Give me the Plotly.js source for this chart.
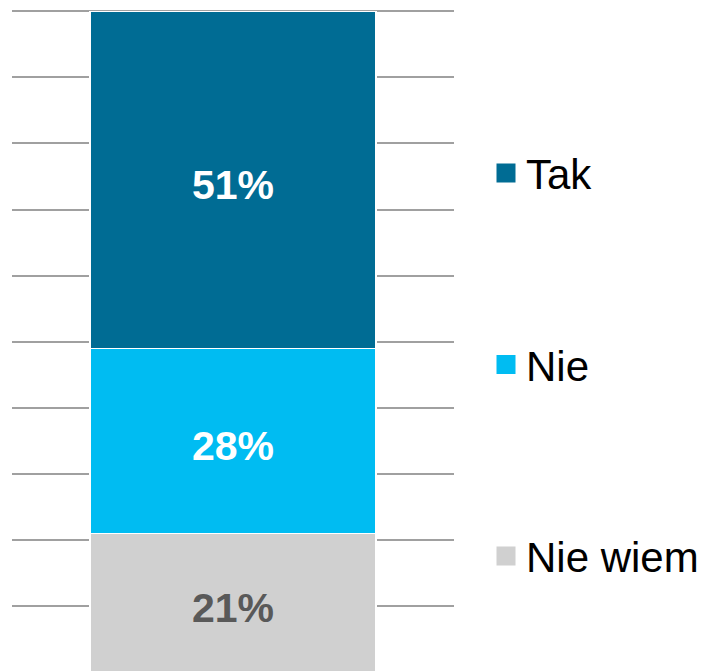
<!DOCTYPE html>
<html>
<head>
<meta charset="utf-8">
<script src="https://cdn.plot.ly/plotly-3.0.1.min.js"></script>
<style>html,body{margin:0;padding:0;background:#fff;}#chart{width:704px;height:672px;}</style>
</head>
<body>
<div id="chart"></div>
<script>
const categories = ['Odpowiedź'];
const seriesNames = ['Nie wiem', 'Nie', 'Tak'];
const valuesNieWiem = [21];
const valuesNie = [28];
const valuesTak = [51];
const seriesValues = [valuesNieWiem, valuesNie, valuesTak];
const seriesColors = ['#D0D0D0', '#00BCF2', '#006C94'];
const labelColors = ['#595959', '#FFFFFF', '#FFFFFF'];
const legendOrder = ['Tak', 'Nie', 'Nie wiem'];

const FONT = '"Liberation Sans", Arial, sans-serif';

const traces = seriesNames.map((name, i) => ({
  type: 'bar',
  name: name,
  x: categories,
  y: seriesValues[i],
  marker: {color: seriesColors[i], line: {color: '#FFFFFF', width: 1.5}},
  showlegend: false,
  hoverinfo: 'skip'
}));

legendOrder.forEach(name => {
  const i = seriesNames.indexOf(name);
  traces.push({
    type: 'scatter',
    mode: 'markers',
    name: name,
    x: [null],
    y: [null],
    legendgroup: name,
    marker: {symbol: 'square', size: 16, color: seriesColors[i], line: {color: seriesColors[i], width: 3}},
    showlegend: true,
    hoverinfo: 'skip'
  });
});

// value labels centred on each stacked segment
const annotations = [];
let base = 0;
seriesNames.forEach((name, i) => {
  const v = seriesValues[i][0];
  annotations.push({
    x: categories[0],
    y: base + v / 2,
    xref: 'x', yref: 'y',
    text: '<b>' + v + '%</b>',
    showarrow: false,
    yshift: -5,
    font: {family: FONT, size: 41, color: labelColors[i]}
  });
  base += v;
});

const layout = {
  width: 704,
  height: 672,
  margin: {l: 12, r: 249, t: 10, b: 0, pad: 0},
  paper_bgcolor: '#FFFFFF',
  plot_bgcolor: '#FFFFFF',
  barmode: 'stack',
  bargap: 0.354,
  font: {family: FONT, size: 42, color: '#000000'},
  showlegend: true,
  legend: {
    x: 1.072, xanchor: 'left',
    y: 0.805, yanchor: 'top',
    traceorder: 'grouped',
    tracegroupgap: 134,
    font: {family: FONT, size: 42, color: '#000000'},
    bgcolor: 'rgba(0,0,0,0)',
    borderwidth: 0
  },
  annotations: annotations,
  xaxis: {
    type: 'category',
    showticklabels: false,
    showgrid: false,
    zeroline: false,
    showline: false,
    ticks: ''
  },
  yaxis: {
    range: [0, 100.2],
    dtick: 10,
    tick0: 0,
    showticklabels: false,
    showgrid: true,
    gridcolor: '#A0A0A0',
    gridwidth: 2,
    zeroline: false,
    showline: false,
    ticks: ''
  }
};

Plotly.newPlot('chart', traces, layout, {staticPlot: true, displayModeBar: false});
</script>
</body>
</html>
